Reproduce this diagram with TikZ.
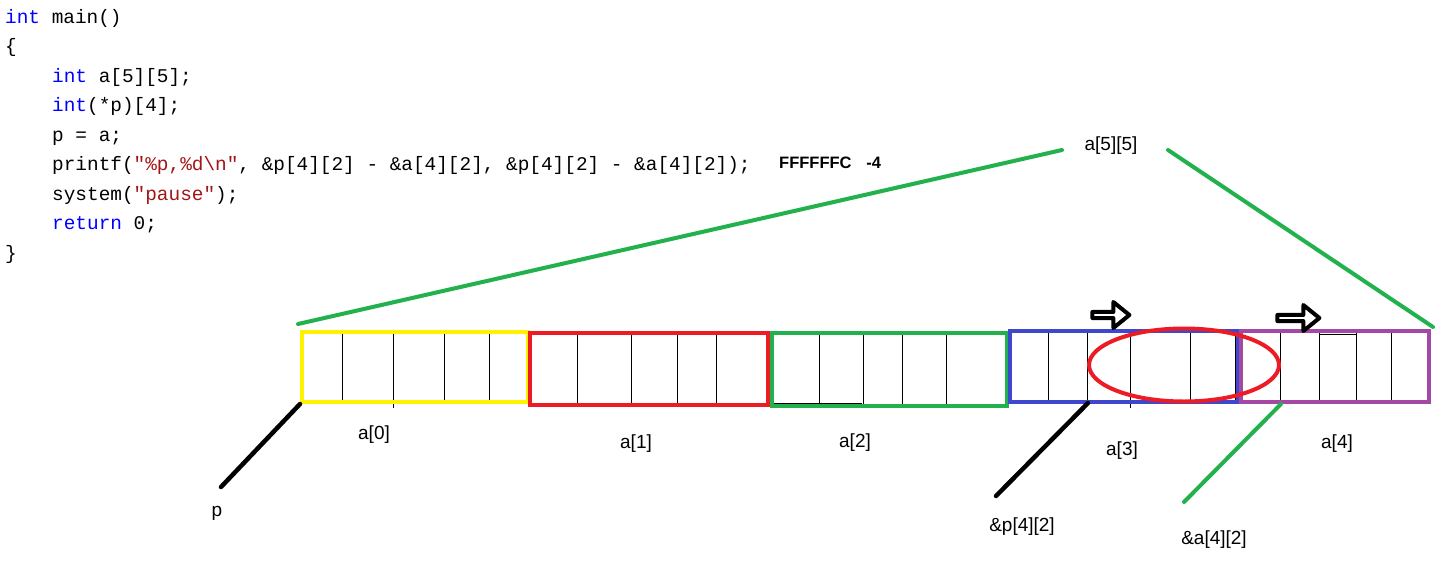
\documentclass[tikz,border=0pt]{standalone}
\usepackage{fontspec}
\setmainfont{Liberation Sans}
\newfontfamily\codefont{Liberation Mono}
\usetikzlibrary{shapes.arrows,shapes.geometric}
\definecolor{pyellow}{RGB}{255,242,0}
\definecolor{pred}{RGB}{237,28,36}
\definecolor{pgreen}{RGB}{34,177,76}
\definecolor{pblue}{RGB}{63,72,204}
\definecolor{ppurple}{RGB}{163,73,164}
\definecolor{kwblue}{RGB}{0,0,255}
\definecolor{strred}{RGB}{163,21,21}
\newcommand\kw[1]{\textcolor{kwblue}{#1}}
\newcommand\strl[1]{\textcolor{strred}{#1}}
\begin{document}
\begin{tikzpicture}[x=1pt,y=-1pt,
  code/.style={anchor=base west, inner sep=0pt, font=\codefont\fontsize{19.4}{22}\selectfont},
  lbl/.style={anchor=base, inner sep=0pt, font=\fontsize{19}{22}\selectfont},
  result/.style={anchor=base west, inner sep=0pt, font=\bfseries\fontsize{16.5}{20}\selectfont},
  cell/.style={draw=black, line width=1pt},
  rowbox/.style={draw, line width=4pt, rectangle, inner sep=0pt},
  harrow/.style={single arrow, draw=black, fill=white, line width=4pt, line join=round, minimum width=26pt, single arrow head extend=6.5pt, single arrow tip angle=78, inner sep=0pt},
  gline/.style={draw=pgreen, line width=4pt, line cap=round},
  bline/.style={draw=black, line width=4.5pt, line cap=round}]
\useasboundingbox (0,0) rectangle (1446,568);
\fill[white] (0,0) rectangle (1446,568);

% code
\node[code] (c1) at (5,23) {\kw{int} main()};
\node[code] (c2) at (5,52.5) {\{};
\node[code] (c3) at (52,82) {\kw{int} a[5][5];};
\node[code] (c4) at (52,111.5) {\kw{int}(*p)[4];};
\node[code] (c5) at (52,141) {p = a;};
\node[code] (c6) at (52,170.5) {printf(\strl{"\%p,\%d\textbackslash n"}, \&p[4][2] - \&a[4][2], \&p[4][2] - \&a[4][2]);};
\node[code] (c7) at (52,200) {system(\strl{"pause"});};
\node[code] (c8) at (52,229.5) {\kw{return} 0;};
\node[code] (c9) at (5,259) {\}};
\node[result] (res) at (779,168) {FFFFFFC\hspace{0.9em}-4};

% cell dividers
\foreach \x in {342,393,444,489} \draw[cell] (\x,332) -- (\x,402);
\draw[cell] (393,402) -- (393,408);
\foreach \x in {577,631,677,716} \draw[cell] (\x,333) -- (\x,405);
\foreach \x in {819,863,902,946} \draw[cell] (\x,333) -- (\x,406);
\draw[cell] (772,403.5) -- (862,403.5);
\foreach \x in {1048,1087,1130,1190,1235} \draw[cell] (\x,331) -- (\x,402);
\draw[cell] (1130,402) -- (1130,408);
\foreach \x in {1280,1319,1356,1391} \draw[cell] (\x,331) -- (\x,402);
\draw[cell] (1319,334) -- (1356,334);

% row boxes
\node[rowbox, draw=pyellow, minimum width=226pt, minimum height=70pt] (a0) at (415,367) {};
\node[rowbox, draw=pred, minimum width=238pt, minimum height=72pt] (a1) at (649,369) {};
\node[rowbox, draw=pgreen, minimum width=235pt, minimum height=73pt] (a2) at (889.5,369.5) {};
\node[rowbox, draw=pblue, minimum width=228pt, minimum height=71pt] (a3) at (1124,366.5) {};
\node[rowbox, draw=ppurple, minimum width=188pt, minimum height=71pt] (a4) at (1335,366.5) {};

% ellipse
\node[ellipse, draw=pred, line width=4pt, minimum width=190pt, minimum height=73pt, inner sep=0pt] (ov) at (1184,365) {};

% hollow arrows
\node[harrow, minimum height=37pt] (r1) at (1109,315) {};
\node[harrow, minimum height=42pt] (r2) at (1296.5,318) {};

% labels
\node[lbl] (l55) at (1111,150) {a[5][5]};
\node[lbl] (l0) at (374,439) {a[0]};
\node[lbl] (l1) at (636,448) {a[1]};
\node[lbl] (l2) at (855,447) {a[2]};
\node[lbl] (l3) at (1122,455) {a[3]};
\node[lbl] (l4) at (1337,448) {a[4]};
\node[lbl] (lp) at (217,516) {p};
\node[lbl] (lpp) at (1022,531) {\&p[4][2]};
\node[lbl] (laa) at (1214,544) {\&a[4][2]};

% connectors
\coordinate (gl) at (298,324);
\coordinate (g1) at (1062,150);
\coordinate (g2) at (1168,150);
\coordinate (gr) at (1433,327);
\draw[gline] (gl) -- (g1);
\draw[gline] (g2) -- (gr);
\coordinate (pend) at (221,487);
\draw[bline] (a0.south west) -- (pend);
\coordinate (pp0) at (1088,403);
\coordinate (pp1) at (996,496);
\draw[bline] (pp0) -- (pp1);
\coordinate (aa0) at (1281,404);
\coordinate (aa1) at (1184,502);
\draw[gline] (aa0) -- (aa1);
\end{tikzpicture}
\end{document}
